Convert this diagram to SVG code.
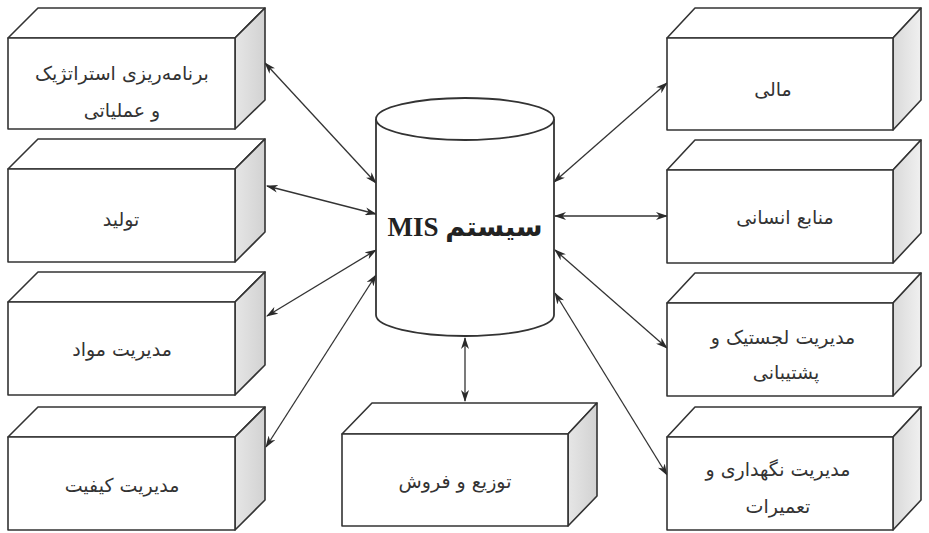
<svg xmlns="http://www.w3.org/2000/svg" width="929" height="533" viewBox="0 0 929 533">
<defs>
<linearGradient id="sideL" x1="0" y1="0" x2="1" y2="0">
<stop offset="0" stop-color="#e6e6e6"/><stop offset="1" stop-color="#d2d2d2"/>
</linearGradient>
<linearGradient id="sideR" x1="0" y1="0" x2="1" y2="0">
<stop offset="0" stop-color="#d9d9d9"/><stop offset="1" stop-color="#f0f0f0"/>
</linearGradient>
<marker id="ah" viewBox="0 0 12 8" refX="11" refY="4" markerWidth="12" markerHeight="8" markerUnits="userSpaceOnUse" orient="auto-start-reverse">
<path d="M0,0 L12,4 L0,8 L3.5,4 z" fill="#2a2a2a"/>
</marker>
<style>
.face{fill:#ffffff;stroke:#333;stroke-width:1.6;stroke-linejoin:round}
.sl{fill:url(#sideL);stroke:#333;stroke-width:1.6;stroke-linejoin:round}
.sr{fill:url(#sideR);stroke:#333;stroke-width:1.6;stroke-linejoin:round}
.lbl{font-family:"DejaVu Sans","Noto Sans",sans-serif;font-size:19px;fill:#333;text-anchor:middle}
.con{stroke:#333;stroke-width:1.3;fill:none;marker-start:url(#ah);marker-end:url(#ah)}
.cyl{fill:#fff;stroke:#333;stroke-width:1.8}
.title{font-family:"Liberation Serif","DejaVu Serif","DejaVu Sans",serif;font-size:27px;font-weight:bold;fill:#222;text-anchor:middle}
</style>
</defs>
<rect width="929" height="533" fill="#ffffff"/>

<g id="connectors">
<line class="con" x1="265" y1="63" x2="376" y2="183"/>
<line class="con" x1="267" y1="186" x2="376" y2="214"/>
<line class="con" x1="267" y1="316" x2="376" y2="250"/>
<line class="con" x1="266" y1="447" x2="376" y2="275"/>
<line class="con" x1="554" y1="182" x2="667" y2="83"/>
<line class="con" x1="555" y1="216" x2="667" y2="216"/>
<line class="con" x1="555" y1="250" x2="667" y2="348"/>
<line class="con" x1="555" y1="293" x2="667" y2="475"/>
<line class="con" x1="465" y1="338" x2="465" y2="401"/>
</g>

<g id="mis">
<path class="cyl" d="M376,119 L376,315 A89,21 0 0 0 554,315 L554,119"/>
<ellipse class="cyl" cx="465" cy="119" rx="89" ry="21"/>
<text class="title" x="465" y="236" direction="rtl">سیستم MIS</text>
</g>

<g id="n1">
<polygon class="face" points="8,38 38,8 265,8 235,38"/>
<polygon class="sl" points="235,38 265,8 265,100 235,129"/>
<rect class="face" x="8" y="38" width="227" height="91"/>
<text class="lbl" x="122" y="80" direction="rtl">برنامه‌ریزی استراتژیک</text>
<text class="lbl" x="122" y="117" direction="rtl">و عملیاتی</text>
</g>

<g id="n2">
<polygon class="face" points="8,169 38,139 265,139 235,169"/>
<polygon class="sl" points="235,169 265,139 265,232 235,262"/>
<rect class="face" x="8" y="169" width="227" height="93"/>
<text class="lbl" x="121" y="226" direction="rtl">تولید</text>
</g>

<g id="n3">
<polygon class="face" points="8,302 38,272 265,272 235,302"/>
<polygon class="sl" points="235,302 265,272 265,365 235,395"/>
<rect class="face" x="8" y="302" width="227" height="93"/>
<text class="lbl" x="122" y="356" direction="rtl">مدیریت مواد</text>
</g>

<g id="n4">
<polygon class="face" points="8,437 38,407 265,407 235,437"/>
<polygon class="sl" points="235,437 265,407 265,500 235,530"/>
<rect class="face" x="8" y="437" width="227" height="93"/>
<text class="lbl" x="122" y="492" direction="rtl">مدیریت کیفیت</text>
</g>

<g id="n5">
<polygon class="face" points="342,434 372,403 597,403 568,434"/>
<polygon class="sl" points="568,434 597,403 597,496 568,526"/>
<rect class="face" x="342" y="434" width="226" height="92"/>
<text class="lbl" x="455" y="488" direction="rtl">توزیع و فروش</text>
</g>

<g id="n6">
<polygon class="face" points="667,38 695,8 921,8 893,38"/>
<polygon class="sr" points="893,38 921,8 921,100 893,130"/>
<rect class="face" x="667" y="38" width="226" height="92"/>
<text class="lbl" x="773" y="96" direction="rtl">مالی</text>
</g>

<g id="n7">
<polygon class="face" points="667,170 695,140 921,140 893,170"/>
<polygon class="sr" points="893,170 921,140 921,233 893,263"/>
<rect class="face" x="667" y="170" width="226" height="93"/>
<text class="lbl" x="785" y="224" direction="rtl">منابع انسانی</text>
</g>

<g id="n8">
<polygon class="face" points="667,303 695,273 921,273 893,303"/>
<polygon class="sr" points="893,303 921,273 921,366 893,396"/>
<rect class="face" x="667" y="303" width="226" height="93"/>
<text class="lbl" x="783" y="344" direction="rtl">مدیریت لجستیک و</text>
<text class="lbl" x="786" y="379" direction="rtl">پشتیبانی</text>
</g>

<g id="n9">
<polygon class="face" points="667,437 695,407 921,407 893,437"/>
<polygon class="sr" points="893,437 921,407 921,500 893,530"/>
<rect class="face" x="667" y="437" width="226" height="93"/>
<text class="lbl" x="778" y="476" direction="rtl">مدیریت نگهداری و</text>
<text class="lbl" x="778" y="513" direction="rtl">تعمیرات</text>
</g>
</svg>
